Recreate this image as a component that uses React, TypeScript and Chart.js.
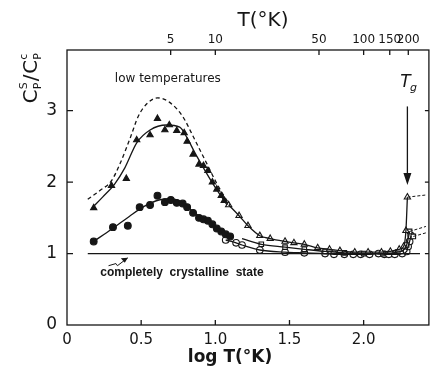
import React, { useEffect, useRef } from "react";
import { Chart, registerables } from "chart.js";
Chart.register(...registerables);

// ---- axes ----
const X_TICKS = [0, 0.5, 1.0, 1.5, 2.0];
const X_TICK_LABELS = ["0", "0.5", "1.0", "1.5", "2.0"];
const Y_TICKS = [0, 1, 2, 3];
const TOP_T = [5, 10, 50, 100, 150, 200];

// ---- reference line (completely crystalline state) ----
const CRYST_X = [0.14, 2.38];
const CRYST_Y = [1, 1];

// ---- dashed upper curve ----
const DASH_X = [0.14, 0.22, 0.3, 0.36, 0.43, 0.48, 0.54, 0.61, 0.69, 0.78, 0.86, 0.94, 1.01, 1.07, 1.1];
const DASH_Y = [1.76, 1.88, 2.02, 2.27, 2.64, 2.92, 3.1, 3.18, 3.12, 2.92, 2.6, 2.27, 1.98, 1.77, 1.68];

// ---- filled triangles ----
const TRI_CURVE_X = [0.17, 0.24, 0.32, 0.39, 0.47, 0.56, 0.67, 0.76, 0.81, 0.86, 0.92, 0.98, 1.04, 1.08];
const TRI_CURVE_Y = [1.64, 1.79, 1.97, 2.2, 2.55, 2.73, 2.8, 2.77, 2.62, 2.42, 2.2, 1.99, 1.8, 1.68];
const TRI_X = [0.18, 0.3, 0.4, 0.47, 0.56, 0.61, 0.66, 0.69, 0.74, 0.79, 0.81, 0.85, 0.89, 0.92, 0.95, 0.98, 1.01, 1.04, 1.06];
const TRI_Y = [1.64, 1.95, 2.05, 2.59, 2.66, 2.89, 2.73, 2.8, 2.72, 2.69, 2.57, 2.39, 2.25, 2.23, 2.16, 2.0, 1.9, 1.81, 1.74];

// ---- filled circles ----
const CIRC_CURVE_X = [0.18, 0.3, 0.42, 0.52, 0.62, 0.7, 0.78, 0.86, 0.94, 1.02, 1.1];
const CIRC_CURVE_Y = [1.17, 1.34, 1.52, 1.66, 1.75, 1.77, 1.71, 1.57, 1.46, 1.34, 1.24];
const CIRC_X = [0.18, 0.31, 0.41, 0.49, 0.56, 0.61, 0.66, 0.7, 0.74, 0.78, 0.81, 0.85, 0.89, 0.92, 0.95, 0.98, 1.01, 1.04, 1.07, 1.1];
const CIRC_Y = [1.17, 1.37, 1.39, 1.65, 1.68, 1.81, 1.72, 1.75, 1.71, 1.7, 1.65, 1.57, 1.5, 1.48, 1.46, 1.41, 1.35, 1.31, 1.27, 1.24];

// ---- open triangles ----
const OT_X = [1.09, 1.16, 1.22, 1.3, 1.37, 1.47, 1.53, 1.6, 1.69, 1.77, 1.84, 1.94, 2.03, 2.12, 2.18, 2.24, 2.27, 2.285, 2.295];
const OT_Y = [1.68, 1.53, 1.39, 1.25, 1.21, 1.17, 1.15, 1.13, 1.08, 1.06, 1.04, 1.02, 1.02, 1.02, 1.03, 1.06, 1.1, 1.32, 1.79];
const OT_TAIL_X = [2.295, 2.42];
const OT_TAIL_Y = [1.79, 1.82];

// ---- open squares ----
const SQ_X = [1.18, 1.31, 1.47, 1.6, 1.74, 1.87, 2.0, 2.13, 2.23, 2.29, 2.31];
const SQ_Y = [1.21, 1.13, 1.09, 1.06, 1.03, 1.01, 1.0, 1.0, 1.02, 1.12, 1.31];
const SQ_TAIL_X = [2.31, 2.42];
const SQ_TAIL_Y = [1.31, 1.38];
const SQ2_TAIL_X = [2.335, 2.42];
const SQ2_TAIL_Y = [1.24, 1.29];

// ---- open circles ----
const OC_X = [1.07, 1.14, 1.18, 1.3, 1.47, 1.6, 1.74, 1.8, 1.87, 1.93, 1.98, 2.04, 2.1, 2.14, 2.17, 2.21, 2.26, 2.29, 2.3, 2.31, 2.32];
const OC_Y = [1.19, 1.15, 1.12, 1.05, 1.02, 1.01, 1.0, 0.99, 0.99, 0.99, 0.99, 0.99, 1.0, 0.99, 0.99, 0.99, 1.0, 1.03, 1.1, 1.17, 1.25];

// ---- annotations ----
const TG_X = 2.295;
const TG_ARROW_Y = [3.06, 1.96];
const TG_LABEL_Y = 3.4;
const LOWT_POS = [0.68, 3.44];
const CRYST_LABEL_POS = [0.775, 0.73];
const SQUIGGLE = [[0.28, 0.83], [0.33, 0.86], [0.34, 0.83], [0.41, 0.94]];

const INK = "#161616";
const FONT = "'DejaVu Sans', sans-serif";

const pts = (xs: number[], ys: number[]) => xs.map((x, i) => ({ x, y: ys[i] }));

const overlay = {
  id: "overlay",
  afterDraw(chart: any) {
    const { ctx, chartArea: a, scales } = chart;
    const sx = scales.x, sy = scales.y;
    const X = (v: number) => sx.getPixelForValue(v);
    const Y = (v: number) => sy.getPixelForValue(v);
    ctx.save();
    ctx.strokeStyle = INK;
    ctx.fillStyle = INK;
    ctx.lineWidth = 1.3;
    // frame
    ctx.strokeRect(a.left, a.top, a.right - a.left, a.bottom - a.top);
    // inside ticks
    ctx.beginPath();
    X_TICKS.slice(1).forEach((v) => { ctx.moveTo(X(v), a.bottom); ctx.lineTo(X(v), a.bottom - 5); });
    TOP_T.forEach((t) => { const p = X(Math.log10(t)); ctx.moveTo(p, a.top); ctx.lineTo(p, a.top + 5); });
    Y_TICKS.slice(1).forEach((v) => {
      ctx.moveTo(a.left, Y(v)); ctx.lineTo(a.left + 6, Y(v));
      ctx.moveTo(a.right, Y(v)); ctx.lineTo(a.right - 4, Y(v));
    });
    ctx.stroke();

    // Tg arrow
    const ax = X(TG_X);
    const ay0 = Y(TG_ARROW_Y[0]), ay1 = Y(TG_ARROW_Y[1]);
    ctx.beginPath(); ctx.moveTo(ax, ay0); ctx.lineTo(ax, ay1 - 8); ctx.stroke();
    ctx.beginPath(); ctx.moveTo(ax - 4, ay1 - 12); ctx.lineTo(ax + 4, ay1 - 12); ctx.lineTo(ax, ay1); ctx.closePath(); ctx.fill();

    // Tg label
    ctx.font = `italic 17px ${FONT}`;
    ctx.textAlign = "center"; ctx.textBaseline = "middle";
    ctx.fillText("T", X(TG_X) - 2, Y(TG_LABEL_Y));
    ctx.font = `italic 11px ${FONT}`;
    ctx.fillText("g", X(TG_X) + 6, Y(TG_LABEL_Y) + 6);

    // text annotations
    ctx.font = `12px ${FONT}`;
    ctx.fillText("low temperatures", X(LOWT_POS[0]), Y(LOWT_POS[1]));
    ctx.font = `bold 12px 'Liberation Sans', sans-serif`;
    ctx.fillText("completely  crystalline  state", X(CRYST_LABEL_POS[0]), Y(CRYST_LABEL_POS[1]));
    // squiggle arrow
    ctx.lineWidth = 1;
    ctx.beginPath();
    SQUIGGLE.forEach((p, i) => (i ? ctx.lineTo(X(p[0]), Y(p[1])) : ctx.moveTo(X(p[0]), Y(p[1]))));
    ctx.stroke();
    const e = SQUIGGLE[SQUIGGLE.length - 1];
    const ex = X(e[0]), ey = Y(e[1]);
    ctx.beginPath(); ctx.moveTo(ex, ey); ctx.lineTo(ex - 7, ey + 0.5); ctx.lineTo(ex - 3, ey + 5); ctx.closePath(); ctx.fill();

    // axis titles
    ctx.font = `20px ${FONT}`;
    ctx.textAlign = "center"; ctx.textBaseline = "middle";
    ctx.fillText("T(°K)", 263, 21);
    ctx.font = `bold 17px ${FONT}`;
    ctx.fillText("log T(°K)", 230, 358);

    // y title: C_P^S / C_P^c rotated
    ctx.translate(30, 78);
    ctx.rotate(-Math.PI / 2);
    ctx.textBaseline = "alphabetic";
    ctx.textAlign = "left";
    const big = `20px ${FONT}`, small = `11px ${FONT}`;
    ctx.font = big; const wC = ctx.measureText("C").width; const wS = ctx.measureText("/").width;
    ctx.font = small; const wsup = Math.max(ctx.measureText("S").width, ctx.measureText("P").width);
    const total = wC * 2 + wsup * 2 + wS + 2;
    let cx = -total / 2;
    const base = 7;
    ctx.font = big; ctx.fillText("C", cx, base); cx += wC;
    ctx.font = small; ctx.fillText("S", cx, base - 10); ctx.fillText("P", cx, base + 4); cx += wsup + 1;
    ctx.font = big; ctx.fillText("/", cx, base); cx += wS + 1;
    ctx.fillText("C", cx, base); cx += wC;
    ctx.font = small; ctx.fillText("c", cx, base - 10); ctx.fillText("P", cx, base + 4);
    ctx.restore();
  },
};

export default function App() {
  const ref = useRef<HTMLCanvasElement>(null);
  useEffect(() => {
    const line = (xs: number[], ys: number[], extra: any = {}) => ({
      data: pts(xs, ys),
      showLine: true,
      borderColor: INK,
      borderWidth: 1.3,
      pointRadius: 0,
      cubicInterpolationMode: "monotone",
      ...extra,
    });
    const marks = (xs: number[], ys: number[], style: string, filled: boolean, r: number) => ({
      data: pts(xs, ys),
      showLine: false,
      pointStyle: style,
      pointRadius: r,
      pointBorderWidth: 1.1,
      borderColor: INK,
      backgroundColor: filled ? INK : "#ffffff",
      pointBackgroundColor: filled ? INK : "#ffffff",
    });
    const chart = new Chart(ref.current!, {
      type: "scatter",
      data: {
        datasets: [
          line(CRYST_X, CRYST_Y, { cubicInterpolationMode: "default" }),
          line(DASH_X, DASH_Y, { borderDash: [4, 3] }),
          line(TRI_CURVE_X, TRI_CURVE_Y),
          line(CIRC_CURVE_X, CIRC_CURVE_Y),
          line(OT_X, OT_Y),
          line(OT_TAIL_X, OT_TAIL_Y, { borderDash: [3, 2], borderWidth: 1 }),
          line(SQ_X, SQ_Y),
          line(SQ_TAIL_X, SQ_TAIL_Y, { borderDash: [3, 2], borderWidth: 1 }),
          line(SQ2_TAIL_X, SQ2_TAIL_Y, { borderDash: [3, 2], borderWidth: 1 }),
          line(OC_X, OC_Y),
          marks(TRI_X, TRI_Y, "triangle", true, 3.6),
          marks(CIRC_X, CIRC_Y, "circle", true, 3.4),
          marks(OT_X, OT_Y, "triangle", false, 3.6),
          marks(SQ_X.slice(1), SQ_Y.slice(1), "rect", false, 3.2),
          marks([SQ2_TAIL_X[0]], [SQ2_TAIL_Y[0]], "rect", false, 3.2),
          marks(OC_X, OC_Y, "circle", false, 3.3),
        ] as any,
      },
      options: {
        responsive: false,
        animation: false,
        events: [],
        layout: { padding: { right: 3 } },
        plugins: { legend: { display: false }, tooltip: { enabled: false } },
        scales: {
          x: {
            type: "linear",
            position: "bottom",
            min: 0,
            max: 2.44,
            afterBuildTicks: (s: any) => { s.ticks = X_TICKS.map((v) => ({ value: v })); },
            afterFit: (s: any) => { s.height = 47; },
            ticks: {
              color: INK,
              font: { family: FONT, size: 15 },
              padding: 6,
              maxRotation: 0,
              callback: (v: any) => X_TICK_LABELS[X_TICKS.indexOf(Number(v))] ?? "",
            },
            grid: { display: false, drawTicks: false },
            border: { display: false },
          },
          x2: {
            type: "linear",
            position: "top",
            min: 0,
            max: 2.44,
            afterBuildTicks: (s: any) => { s.ticks = TOP_T.map((t) => ({ value: Math.log10(t) })); },
            afterFit: (s: any) => { s.height = 50; },
            ticks: {
              color: INK,
              font: { family: FONT, size: 12 },
              padding: 3,
              maxRotation: 0,
              autoSkip: false,
              callback: (v: any) => String(Math.round(Math.pow(10, Number(v)))),
            },
            grid: { display: false, drawTicks: false },
            border: { display: false },
          },
          y: {
            type: "linear",
            min: 0,
            max: 3.85,
            afterBuildTicks: (s: any) => { s.ticks = Y_TICKS.map((v) => ({ value: v })); },
            afterFit: (s: any) => { s.width = 67; },
            ticks: {
              color: INK,
              font: { family: FONT, size: 17 },
              padding: 10,
              callback: (v: any) => String(v),
            },
            grid: { display: false, drawTicks: false },
            border: { display: false },
          },
        },
      } as any,
      plugins: [overlay],
    });
    return () => chart.destroy();
  }, []);
  return (
    <div style={{ position: "fixed", left: 0, top: 0, width: 434, height: 372, background: "#fff" }}>
      <canvas ref={ref} width={434} height={372} />
    </div>
  );
}
